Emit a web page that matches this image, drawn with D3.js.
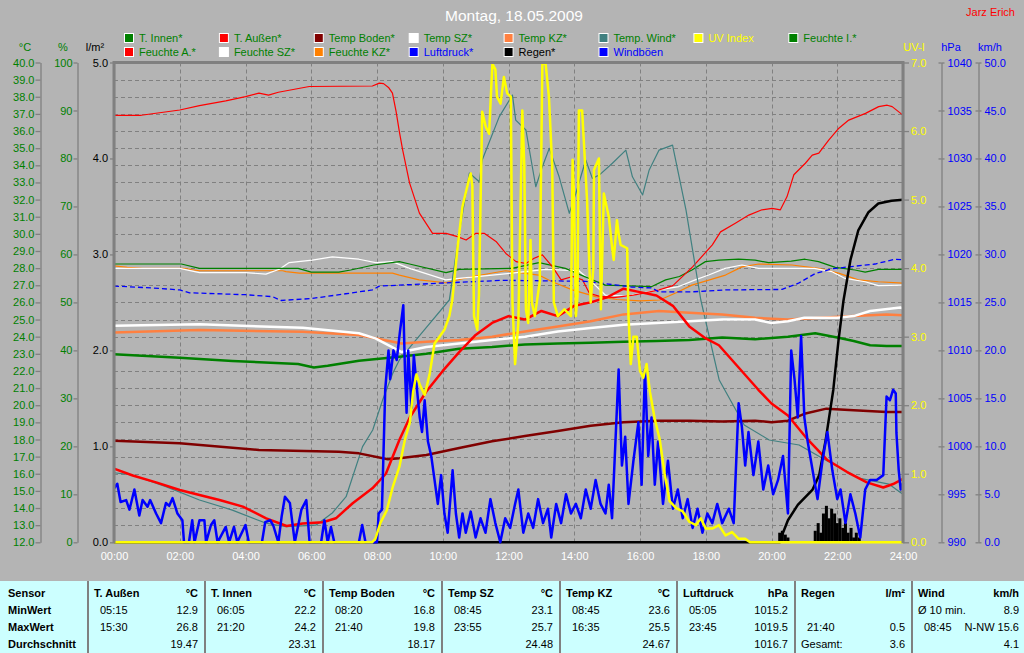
<!DOCTYPE html>
<html><head><meta charset="utf-8">
<script src="https://cdn.jsdelivr.net/npm/d3@7"></script>
<style>
body{margin:0;background:#b4b4b4;}
svg{display:block;font-family:"Liberation Sans",Arial,sans-serif;}
</style>
</head><body>
<svg id="c" width="1024" height="653"></svg>
<script>
// ---------------- DATA ----------------
const titleText = "Montag, 18.05.2009";
const authorText = "Jarz Erich";
const hourTicks = [0,2,4,6,8,10,12,14,16,18,20,22,24];
const tempTicks = d3.range(12, 41, 1);
const humTicks = d3.range(0, 101, 10);
const rainTicks = [0,1,2,3,4,5];
const uvTicks = [0,1,2,3,4,5,6,7];
const pressTicks = d3.range(990, 1041, 5);
const windTicks = d3.range(0, 51, 5);

const legendRow1 = ["T. Innen*","T. Außen*","Temp Boden*","Temp SZ*","Temp KZ*","Temp. Wind*","UV Index","Feuchte I.*"];
const legendRow2 = ["Feuchte A.*","Feuchte SZ*","Feuchte KZ*","Luftdruck*","Regen*","Windböen"];

// [hour, °C]
const tAussen = [[0,16.3],[0.57,15.9],[1.28,15.5],[2,15.05],[2.6,14.76],[3.21,14.47],[3.92,14.08],[4.63,13.4],[5.25,12.95],[5.74,13.1],[6.35,13.17],[6.75,13.4],[7.26,14.28],[7.86,15.15],[8.27,16.0],[8.68,17.97],[9.0,19.3],[9.5,20.8],[10.0,22.0],[10.5,23.1],[11.0,24.1],[11.5,24.8],[12.0,25.2],[12.5,25.0],[13.0,25.5],[13.5,25.2],[14.0,25.8],[14.5,26.0],[15.0,26.3],[15.5,26.8],[16.0,26.6],[16.5,26.4],[17.0,25.8],[17.5,24.6],[18.0,23.9],[18.4,23.5],[19.0,22.2],[19.6,20.9],[20.0,20.1],[20.5,19.4],[21.1,18.0],[21.7,16.8],[22.3,16.1],[22.9,15.5],[23.4,15.2],[23.7,15.4],[24,15.7]];
const tInnen = [[0,22.97],[2,22.77],[3.6,22.58],[5.6,22.4],[6.08,22.2],[6.5,22.3],[7.45,22.6],[8.68,22.83],[9.5,23.0],[10.5,23.3],[11.5,23.4],[12.5,23.55],[13.5,23.6],[14.5,23.65],[15.5,23.7],[16.5,23.75],[17.5,23.8],[18.5,23.95],[19.5,23.85],[20.5,24.0],[21.33,24.2],[22.0,23.95],[22.5,23.75],[23.0,23.5],[23.5,23.45],[24,23.45]];
const tempBoden = [[0,17.93],[2,17.78],[4.41,17.39],[6.84,17.29],[7.45,17.19],[8.33,16.85],[8.68,16.9],[9.5,17.1],[10.5,17.5],[11.5,17.9],[12.5,18.2],[13.5,18.5],[14.5,18.8],[15.5,19.0],[16.5,19.1],[17.5,19.1],[18.5,19.05],[19.5,19.1],[20.0,19.0],[20.5,19.1],[21.0,19.5],[21.67,19.8],[22.5,19.7],[23.5,19.6],[24,19.6]];
const tempSZ = [[0,24.64],[2.6,24.72],[5.74,24.52],[7.45,24.2],[7.95,23.9],[8.75,23.1],[9.5,23.4],[10.5,23.6],[11.5,23.8],[12.5,24.0],[13.5,24.3],[14.5,24.5],[15.5,24.7],[16.5,24.8],[17.5,24.9],[18.5,25.0],[19.5,25.0],[20.0,24.8],[20.5,24.9],[21.0,25.1],[22.0,25.1],[22.5,25.2],[23.0,25.5],[23.92,25.7],[24,25.65]];
const tempKZ = [[0,24.25],[2.6,24.39],[5.74,24.29],[7.45,24.1],[8.75,23.6],[9.5,23.7],[10.5,23.8],[11.5,24.0],[12.5,24.3],[13.5,24.6],[14.5,24.9],[15.5,25.3],[16.58,25.5],[17.5,25.4],[18.5,25.3],[19.5,25.1],[20.5,25.0],[21.5,25.1],[22.5,25.2],[23.5,25.3],[24,25.25]];
const tempWind = [[0,16.06],[0.56,15.93],[1.58,15.25],[2.6,14.47],[3.6,13.88],[4.63,13.11],[5.23,12.91],[6.14,13.0],[6.64,13.71],[7.06,14.66],[7.56,17.58],[7.87,18.55],[8.17,20.3],[8.48,21.86],[8.68,22.64],[9.44,24.39],[10.2,26.14],[10.5,30.05],[10.81,33.55],[11.11,33.04],[11.2,34.31],[11.72,36.84],[12.12,38.1],[12.22,36.64],[12.53,36.06],[12.83,32.75],[13.03,33.92],[13.24,34.99],[13.54,33.33],[13.85,31.2],[14.05,32.37],[14.35,34.31],[14.55,33.24],[14.76,33.43],[15.16,34.12],[15.57,34.89],[15.77,33.33],[16.08,32.27],[16.28,33.73],[16.58,34.89],[16.99,35.18],[17.4,31.39],[17.85,26.14],[18.41,21.47],[19.17,18.85],[19.93,17.97],[20.84,17.68],[21.75,16.69],[22.66,15.75],[23.57,15.4],[23.9,14.94],[24,14.8]];

// [hour, %]
const feuchteA = [[0,89.0],[0.83,89.0],[2,90.1],[2.6,91.0],[3.4,92.0],[4,92.9],[4.41,93.6],[4.7,93.2],[5.0,93.8],[5.94,95.0],[7.86,95.1],[8.07,95.7],[8.2,95.6],[8.35,94.8],[8.47,93.6],[8.58,89.8],[8.68,85.6],[8.78,81.8],[8.99,74.9],[9.29,68.6],[9.69,64.4],[10.1,64.4],[10.45,63.7],[10.71,63.0],[11.01,64.4],[11.26,64.4],[11.62,62.7],[11.92,60.2],[12.23,58.5],[12.53,58.1],[12.78,59.2],[13.03,59.9],[13.34,57.4],[13.6,54.7],[13.95,55.4],[14.25,54.7],[14.46,51.9],[14.75,51.3],[15.2,51.0],[15.8,51.5],[16.3,52.2],[16.58,52.6],[17.0,53.5],[17.6,57.4],[18.2,62.0],[18.45,64.7],[18.9,66.5],[19.31,68.2],[19.71,69.3],[20.02,69.6],[20.27,69.3],[20.47,72.0],[20.68,76.6],[21.03,79.0],[21.24,80.7],[21.44,81.1],[21.74,83.8],[22.05,86.3],[22.35,88.0],[22.86,89.4],[23.26,90.8],[23.52,91.1],[23.67,90.8],[23.93,89.4],[24,89.0]];
const feuchteI = [[0,58.0],[2.05,58.0],[2.6,57.1],[5.6,57.1],[6.0,56.3],[6.84,56.3],[7.2,56.75],[7.9,57.8],[8.68,58.5],[8.99,58.0],[10.1,56.2],[10.5,56.9],[12.1,57.1],[12.93,58.3],[13.73,57.1],[14.55,54.7],[14.95,53.6],[16.36,53.3],[16.78,54.7],[17.2,55.4],[17.58,56.75],[17.99,58.5],[18.4,58.8],[19.0,59.0],[19.5,58.8],[19.91,58.3],[20.6,58.6],[21.02,59.0],[21.43,58.5],[21.94,57.3],[22.54,56.75],[22.85,56.3],[23.25,56.9],[24,56.9]];
const feuchteSZ = [[0,57.1],[2.0,57.1],[2.6,56.2],[4.0,56.2],[4.62,55.9],[5.03,56.9],[5.33,58.3],[6.03,58.8],[6.64,59.5],[7.45,59.0],[7.96,58.3],[8.46,58.5],[8.99,57.1],[10.09,54.7],[10.5,55.0],[12.1,56.1],[13.13,56.9],[14.14,56.6],[14.5,54.5],[14.95,51.5],[15.6,51.3],[16.57,52.6],[17.18,53.3],[17.68,54.7],[18.09,55.7],[18.59,57.1],[19.1,57.8],[19.61,57.1],[21.3,57.1],[21.84,56.4],[22.24,55.0],[22.85,54.3],[23.25,53.5],[24,53.6]];
const feuchteKZ = [[0,57.6],[0.4,57.3],[0.88,57.1],[2.09,57.1],[2.6,56.6],[5.13,56.6],[5.23,56.4],[5.64,56.1],[8.47,56.1],[8.68,55.7],[9.28,54.7],[10.09,54.1],[10.9,55.4],[11.91,56.6],[12.92,55.7],[13.33,54.3],[13.94,52.6],[14.65,51.2],[15.3,50.6],[16.0,50.3],[16.6,50.5],[17.1,52.0],[17.58,53.6],[18.6,55.7],[19.1,57.4],[19.61,58.0],[20.62,57.8],[21.43,57.1],[22.04,56.1],[22.64,54.7],[23.25,54.3],[24,54.0]];

// [hour, hPa]
const luftdruck = [[0,1016.7],[1.2,1016.5],[2,1016.3],[2.3,1016.0],[4.0,1015.8],[4.82,1015.6],[5.08,1015.2],[6.0,1015.4],[7.05,1015.9],[7.86,1016.3],[8.07,1016.7],[8.68,1016.8],[9.89,1017.0],[11.81,1017.3],[13.13,1017.25],[14.35,1017.2],[15.76,1016.6],[16.37,1016.5],[16.57,1016.1],[17.58,1016.1],[18.6,1016.3],[20.32,1016.35],[20.82,1017.0],[21.33,1018.0],[21.84,1018.5],[22.34,1018.7],[23.15,1019.0],[23.75,1019.5],[24,1019.45]];

// [hour, l/m² cumulative]
const regen = [[0,0],[20.25,0],[20.35,0.1],[20.5,0.23],[20.8,0.39],[21.25,0.55],[21.45,0.70],[21.65,1.07],[21.88,1.59],[22.04,2.11],[22.19,2.52],[22.4,2.94],[22.64,3.25],[22.95,3.44],[23.25,3.53],[23.65,3.56],[24,3.57]];
// [hour, l/m² per interval]
const regenBars = [[20.25,0.1],[20.33,0.12],[20.42,0.08],[20.5,0.05],[21.33,0.12],[21.42,0.2],[21.5,0.1],[21.58,0.3],[21.67,0.38],[21.75,0.25],[21.83,0.35],[21.92,0.3],[22.0,0.2],[22.08,0.25],[22.17,0.15],[22.25,0.2],[22.33,0.1],[22.42,0.15],[22.5,0.05],[22.58,0.1],[22.67,0.05]];

// [hour, UV index]
const uvIndex = [[0,0],[7.85,0],[7.95,0.05],[8.1,0.28],[8.3,0.47],[8.48,0.81],[8.68,1.1],[8.85,1.5],[9.0,1.75],[9.1,2.2],[9.2,2.45],[9.3,2.3],[9.45,2.15],[9.6,2.45],[9.75,2.9],[9.9,3.0],[10.05,3.1],[10.2,3.3],[10.29,3.53],[10.45,4.3],[10.6,4.9],[10.8,5.3],[10.85,5.38],[10.9,5.2],[10.95,3.3],[11.05,3.1],[11.1,3.6],[11.2,6.28],[11.31,6.06],[11.41,5.96],[11.51,6.98],[11.6,6.9],[11.65,6.5],[11.76,6.4],[11.86,6.79],[11.96,6.55],[12.07,6.5],[12.12,3.5],[12.2,2.6],[12.3,3.2],[12.42,6.3],[12.48,5.5],[12.53,3.4],[12.6,3.2],[12.67,4.41],[12.71,3.5],[12.8,3.3],[12.95,3.8],[13.03,6.98],[13.13,6.98],[13.23,6.5],[13.33,5.48],[13.38,3.5],[13.5,3.3],[13.7,3.4],[13.9,3.3],[13.95,5.58],[13.99,5.09],[14.05,3.3],[14.1,3.6],[14.14,6.30],[14.24,6.30],[14.39,4.99],[14.5,3.5],[14.58,4.0],[14.6,5.43],[14.75,5.6],[14.81,3.4],[14.9,5.09],[15.05,4.75],[15.15,4.31],[15.2,4.12],[15.3,4.7],[15.35,4.5],[15.41,4.34],[15.61,4.29],[15.65,3.3],[15.72,2.6],[15.8,3.0],[15.9,3.0],[16.0,2.5],[16.1,2.4],[16.2,2.6],[16.3,2.2],[16.45,1.8],[16.6,1.5],[16.75,1.0],[16.9,0.6],[17.1,0.5],[17.3,0.45],[17.5,0.3],[17.7,0.25],[17.85,0.35],[18.0,0.2],[18.2,0.2],[18.4,0.25],[18.6,0.1],[18.8,0.15],[19.0,0.05],[19.2,0.05],[19.35,0],[24,0]];

// [hour, km/h]
const windboeen = [[0,5.6],[0.1,6.1],[0.2,4.2],[0.37,4.4],[0.47,3.4],[0.62,5.5],[0.77,2.8],[0.87,4.4],[1.02,3.7],[1.1,4.4],[1.28,3.0],[1.43,2.0],[1.58,4.1],[1.68,3.8],[1.78,4.6],[1.93,3.0],[2.08,2.3],[2.13,0],[2.28,0],[2.38,2.3],[2.45,0],[2.6,2.3],[2.75,2.3],[2.8,0],[2.95,1.8],[3.05,2.3],[3.15,0],[3.4,1.6],[3.5,0],[3.65,1.6],[3.75,0],[4.0,1.8],[4.1,0],[4.5,0],[4.6,2.1],[4.75,2.3],[4.85,1.7],[5.0,0],[5.1,2.7],[5.2,4.75],[5.35,4.1],[5.5,0],[5.7,3.4],[5.85,4.4],[5.95,0],[6.3,0],[6.4,2.3],[6.5,0],[6.6,1.6],[6.7,0],[7.45,0],[7.55,1.8],[7.65,0],[8.0,0],[8.05,3.0],[8.15,3.4],[8.2,9.6],[8.25,15.9],[8.35,20],[8.4,17],[8.5,20],[8.6,19],[8.7,22],[8.8,24.7],[8.85,18],[8.9,13.5],[8.95,20],[9.05,14],[9.12,19.5],[9.2,16.5],[9.3,13],[9.37,11.5],[9.45,14.8],[9.55,10.5],[9.65,9],[9.75,6.5],[9.85,4],[9.95,7],[10.05,3],[10.15,1],[10.3,7.5],[10.4,3],[10.5,0.5],[10.6,3],[10.7,1],[10.85,3.2],[11.0,0.5],[11.15,2.5],[11.3,1],[11.45,4.5],[11.6,2],[11.75,0],[11.9,2.5],[12.05,1.5],[12.2,4],[12.3,5.5],[12.45,1],[12.6,3],[12.75,1.5],[12.9,4.5],[13.05,2],[13.2,3.5],[13.3,0.5],[13.45,4],[13.6,2],[13.75,5],[13.9,3],[14.05,4],[14.2,2.5],[14.35,5.5],[14.5,3.5],[14.65,6.5],[14.8,4],[14.95,3],[15.05,6],[15.15,2.5],[15.35,18],[15.45,8],[15.55,11],[15.65,4],[15.8,8.5],[15.95,12.5],[16.05,6],[16.15,18],[16.25,9],[16.35,13],[16.45,6],[16.55,10.5],[16.7,4],[16.85,8.5],[17.0,3.5],[17.15,5.5],[17.3,2.5],[17.45,4.5],[17.6,1.5],[17.75,3.5],[17.9,1],[18.05,3],[18.2,2],[18.35,4],[18.5,2],[18.7,3.5],[18.85,2],[19.0,14.5],[19.1,12],[19.2,8],[19.3,11.5],[19.45,7],[19.6,10.5],[19.75,5.5],[19.9,8],[20.05,5],[20.2,6.5],[20.35,9],[20.5,3],[20.6,20],[20.7,17],[20.8,13],[20.9,21.5],[21.0,13],[21.1,10.5],[21.25,7.5],[21.4,4.5],[21.55,8.5],[21.7,11.5],[21.85,7.5],[22.0,4.5],[22.1,5.5],[22.25,2],[22.4,5],[22.55,3],[22.7,0.5],[22.85,5.5],[23.0,6.5],[23.2,6.5],[23.4,7],[23.5,15.2],[23.6,14.8],[23.7,15.9],[23.78,15.5],[23.8,11.4],[23.87,7.5],[23.93,5.5],[24,6.2]];

// table
const tableHeads = ["Sensor","T. Außen","T. Innen","Temp Boden","Temp SZ","Temp KZ","Luftdruck","Regen","Wind"];
const tableUnits = ["","°C","°C","°C","°C","°C","hPa","l/m²","km/h"];
const rowLabels = ["MinWert","MaxWert","Durchschnitt"];
const minTimes = ["05:15","06:05","08:20","08:45","08:45","05:05","","Ø 10 min."];
const minVals  = ["12.9","22.2","16.8","23.1","23.6","1015.2","","8.9"];
const maxTimes = ["15:30","21:20","21:40","23:55","16:35","23:45","21:40","08:45"];
const maxVals  = ["26.8","24.2","19.8","25.7","25.5","1019.5","0.5","N-NW 15.6"];
const avgNotes = ["","","","","","","Gesamt:",""];
const avgVals  = ["19.47","23.31","18.17","24.48","24.67","1016.7","3.6","4.1"];

// ---------------- DRAW ----------------
const svg = d3.select('#c');
const W = 1024, H = 653;
const L = 114, R = 903, T = 62.5, B = 542.3;
const FONT = '"Liberation Sans",Arial,sans-serif';

const x = d3.scaleLinear().domain([0,24]).range([L,R]);
const yT = d3.scaleLinear().domain([12,40]).range([B,T]);
const yH = d3.scaleLinear().domain([0,100]).range([B,T]);
const yR = d3.scaleLinear().domain([0,5]).range([B,T]);
const yUV = d3.scaleLinear().domain([0,7]).range([B,T]);
const yP = d3.scaleLinear().domain([990,1040]).range([B,T]);
const yW = d3.scaleLinear().domain([0,50]).range([B,T]);

const C = {green:'#008000', red:'#ff0000', boden:'#800000', white:'#ffffff', kz:'#ff8040', teal:'#408080',
  yellow:'#ffff00', orange:'#ff8000', blue:'#0000ff', black:'#000000', grid:'#808080', bg:'#b4b4b4'};

svg.append('rect').attr('width',W).attr('height',H).attr('fill',C.bg);

// title
svg.append('text').attr('x',514).attr('y',21).attr('text-anchor','middle')
  .attr('font-size',15.5).attr('fill','#fff').attr('font-family',FONT).text(titleText);
svg.append('text').attr('x',1015).attr('y',16).attr('text-anchor','end')
  .attr('font-size',11).attr('fill',C.red).attr('font-family',FONT).text(authorText);

// legend
const legColors1 = [[C.green,C.green],[C.red,C.green],[C.boden,C.green],[C.white,C.green],[C.kz,C.green],[C.teal,C.green],[C.yellow,C.yellow],[C.green,C.green]];
const legColors2 = [[C.red,C.green],[C.white,C.green],[C.orange,C.green],[C.blue,C.blue],[C.black,C.black],[C.blue,C.blue]];
function legendRow(labels, colors, y0){
  labels.forEach((lab,i)=>{
    const lx = 124 + i*94.9;
    svg.append('rect').attr('x',lx+0.5).attr('y',y0+0.5).attr('width',9).attr('height',9)
      .attr('fill',colors[i][0]).attr('stroke','#fff').attr('stroke-width',1);
    svg.append('text').attr('x',lx+15).attr('y',y0+9).attr('font-size',11).attr('font-family',FONT)
      .attr('fill',colors[i][1]).text(lab);
  });
}
legendRow(legendRow1, legColors1, 33);
legendRow(legendRow2, legColors2, 47);

// axis headers
const hdr = [["°C",25,C.green],["%",63,C.green],["l/m²",95,C.black],["UV-I",914,C.yellow],["hPa",951,C.blue],["km/h",990,C.blue]];
hdr.forEach(h=>svg.append('text').attr('x',h[1]).attr('y',51).attr('text-anchor','middle')
  .attr('font-size',11).attr('font-family',FONT).attr('fill',h[2]).text(h[0]));

// grid
const grid = svg.append('g').attr('stroke',C.grid).attr('stroke-width',1).attr('stroke-dasharray','4,3');
tempTicks.slice(1,-1).forEach(t=>grid.append('line').attr('x1',L).attr('x2',R)
  .attr('y1',Math.round(yT(t))+0.5).attr('y2',Math.round(yT(t))+0.5));
hourTicks.slice(1,-1).forEach(h=>grid.append('line').attr('y1',T).attr('y2',B)
  .attr('x1',Math.round(x(h))+0.5).attr('x2',Math.round(x(h))+0.5));

// axes helper
function styleAxis(g, color){
  g.attr('font-family',FONT).attr('font-size',11);
  g.selectAll('.domain').attr('stroke',C.grid).attr('stroke-width',1.3);
  g.selectAll('.tick line').attr('stroke',C.grid).attr('stroke-width',1.3);
  g.selectAll('.tick text').attr('fill',color);
}
const f1 = d3.format('.1f');
let g;
g = svg.append('g').attr('transform','translate(40.5,0)')
  .call(d3.axisLeft(yT).tickValues(tempTicks).tickFormat(f1).tickSize(5).tickSizeOuter(0).tickPadding(1));
styleAxis(g, C.green);
g = svg.append('g').attr('transform','translate(77.5,0)')
  .call(d3.axisLeft(yH).tickValues(humTicks).tickFormat(d3.format('d')).tickSize(4).tickSizeOuter(0).tickPadding(1));
styleAxis(g, C.green);
g = svg.append('g').attr('transform',`translate(${L},0)`)
  .call(d3.axisLeft(yR).tickValues(rainTicks).tickFormat(f1).tickSize(4).tickSizeOuter(0).tickPadding(2));
styleAxis(g, C.black);
g = svg.append('g').attr('transform',`translate(${R},0)`)
  .call(d3.axisRight(yUV).tickValues(uvTicks).tickFormat(f1).tickSize(6).tickSizeOuter(0).tickPadding(2));
styleAxis(g, C.yellow);
g = svg.append('g').attr('transform','translate(941.5,0)')
  .call(d3.axisRight(yP).tickValues(pressTicks).tickFormat(d3.format('d')).tickSize(3).tickSizeOuter(0).tickPadding(3));
styleAxis(g, C.blue);
g = svg.append('g').attr('transform','translate(941.5,0)')
  .call(d3.axisLeft(yP).tickValues(pressTicks).tickFormat('').tickSize(3).tickSizeOuter(0));
styleAxis(g, C.blue); g.select('.domain').remove();
g = svg.append('g').attr('transform','translate(978.5,0)')
  .call(d3.axisRight(yW).tickValues(windTicks).tickFormat(f1).tickSize(3).tickSizeOuter(0).tickPadding(3));
styleAxis(g, C.blue);
g = svg.append('g').attr('transform','translate(978.5,0)')
  .call(d3.axisLeft(yW).tickValues(windTicks).tickFormat('').tickSize(3).tickSizeOuter(0));
styleAxis(g, C.blue); g.select('.domain').remove();

// x axis
g = svg.append('g').attr('transform',`translate(0,${B})`)
  .call(d3.axisBottom(x).tickValues(hourTicks).tickFormat(h=>d3.format('02d')(h)+':00').tickSize(0).tickPadding(10));
g.attr('font-family',FONT).attr('font-size',11);
g.select('.domain').remove();
g.selectAll('.tick text').attr('fill','#fff');

// series
function drawLine(data, yScale, color, width, dash){
  const line = d3.line().x(d=>x(d[0])).y(d=>yScale(d[1]));
  const p = svg.append('path').datum(data).attr('d',line).attr('fill','none')
    .attr('stroke',color).attr('stroke-width',width).attr('stroke-linejoin','round');
  if(dash) p.attr('stroke-dasharray',dash);
  return p;
}
drawLine(feuchteKZ, yH, C.orange, 1.2);
drawLine(feuchteSZ, yH, C.white, 1.2);
drawLine(feuchteI, yH, C.green, 1.2);
drawLine(feuchteA, yH, C.red, 1.2);
drawLine(luftdruck, yP, C.blue, 1.3, '5,3');
drawLine(tempWind, yT, C.teal, 1.2);
drawLine(tempBoden, yT, C.boden, 2.5);
drawLine(tempKZ, yT, C.kz, 2.5);
drawLine(tempSZ, yT, C.white, 2.5);
drawLine(tInnen, yT, C.green, 2.5);
drawLine(tAussen, yT, C.red, 2.5);

// rain bars
svg.append('g').selectAll('rect').data(regenBars).join('rect')
  .attr('x',d=>x(d[0])-1.5).attr('width',3)
  .attr('y',d=>yR(d[1])).attr('height',d=>yR(0)-yR(d[1])).attr('fill',C.black);
drawLine(regen, yR, C.black, 2.5);
drawLine(windboeen, yW, C.blue, 2.5);
drawLine(uvIndex, yUV, C.yellow, 2.5);

// plot frame
svg.append('path').attr('d',`M${L},${B+1}V${T}H${R}V${B+1}`).attr('fill','none')
  .attr('stroke',C.grid).attr('stroke-width',3);

// table
const TY = 581;
svg.append('rect').attr('x',0).attr('y',TY).attr('width',W).attr('height',H-TY).attr('fill','#ccffff');
const seps = [88,205,323,442,560,677,795,912,1024];
seps.slice(0,-1).forEach(s=>{
  svg.append('line').attr('x1',s).attr('x2',s).attr('y1',TY).attr('y2',H).attr('stroke','#808080').attr('stroke-width',2);
});
const rowY = [597, 613.5, 630.5, 648];
const tt = svg.append('g').attr('font-family',FONT).attr('font-size',11).attr('fill','#000');
tt.append('text').attr('x',8).attr('y',rowY[0]).attr('font-weight','bold').text(tableHeads[0]);
rowLabels.forEach((r,i)=>tt.append('text').attr('x',8).attr('y',rowY[i+1]).attr('font-weight','bold').text(r));
for(let c=1;c<tableHeads.length;c++){
  const s = seps[c-1], e = seps[c];
  const right = c===8 ? 1019 : e-7;
  tt.append('text').attr('x',s+6).attr('y',rowY[0]).attr('font-weight','bold').text(tableHeads[c]);
  tt.append('text').attr('x',right).attr('y',rowY[0]).attr('text-anchor','end').attr('font-weight','bold').text(tableUnits[c]);
  const k = c-1;
  const minIsLabel = minTimes[k].startsWith('Ø');
  tt.append('text').attr('x',s+(minIsLabel?6:12)).attr('y',rowY[1]).text(minTimes[k]);
  tt.append('text').attr('x',right).attr('y',rowY[1]).attr('text-anchor','end').text(minVals[k]);
  tt.append('text').attr('x',s+12).attr('y',rowY[2]).text(maxTimes[k]);
  tt.append('text').attr('x',right).attr('y',rowY[2]).attr('text-anchor','end').text(maxVals[k]);
  tt.append('text').attr('x',s+6).attr('y',rowY[3]).text(avgNotes[k]);
  tt.append('text').attr('x',right).attr('y',rowY[3]).attr('text-anchor','end').text(avgVals[k]);
}
</script>
</body></html>
